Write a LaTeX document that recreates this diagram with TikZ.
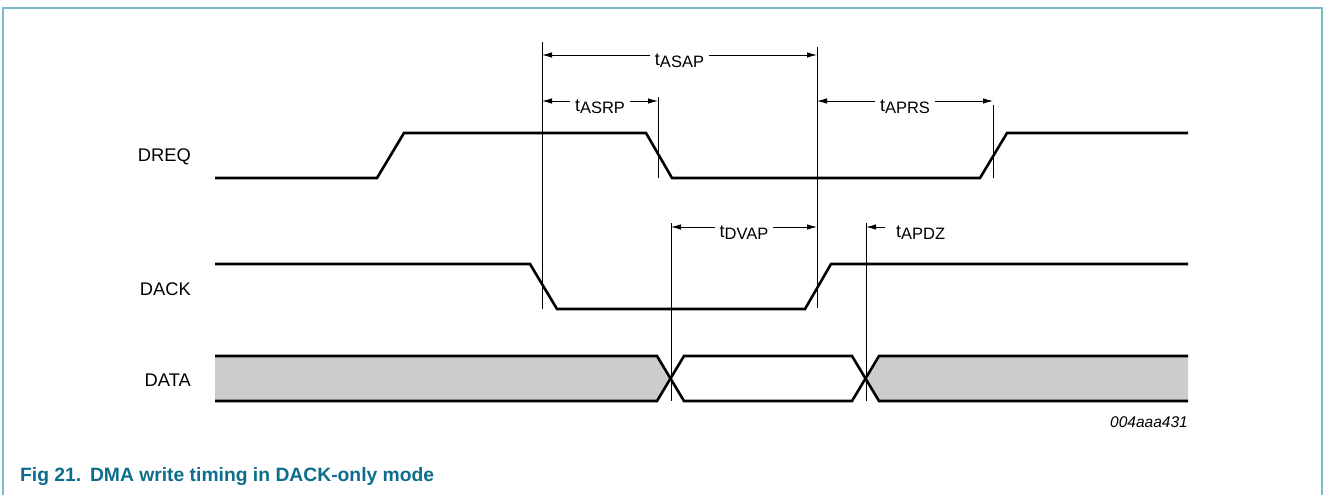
\documentclass[tikz,border=0pt]{standalone}
\usepackage{fontspec}
\setmainfont{Liberation Sans}
\usepackage{xcolor}
\usetikzlibrary{arrows.meta}
\usetikzlibrary{positioning}
\definecolor{nxpframe}{RGB}{125,185,200}
\definecolor{nxpcap}{RGB}{12,110,140}
\definecolor{busgray}{RGB}{204,204,204}
\newcommand{\tlab}[1]{t\raisebox{-2.5pt}{\fontsize{16.5}{16.5}\selectfont #1}}
\tikzset{
  tim_sig/.style = {line width=2.6pt, line join=miter},% signal
  tim_gd/.style = {line width=0.9pt},% guide line
  tim_dim/.style = {line width=0.9pt, <->},% timing arrow
  tim_lbl/.style = {fill=white, inner xsep=5pt, inner ysep=1pt, anchor=base,
    yshift=-10pt, font=\fontsize{18}{20}\selectfont},% timing label
  tim_name/.style = {anchor=base east, inner sep=0pt,
    font=\fontsize{18.3}{20}\selectfont}% signal name
}

\begin{document}
\begin{tikzpicture}[x=1pt,y=-1pt,>={Latex[length=10pt,width=5.5pt]}]
\useasboundingbox (0,0) rectangle (1324,495);
\draw[nxpframe, line width=2pt] (2.5,495) -- (2.5,8) -- (1322,8) -- (1322,495);

% signal names
\node[tim_name] (n_dreq) at (191,161.5) {DREQ};
\node[tim_name] (n_dack) at (191,295) {DACK};
\node[tim_name] (n_data) at (191,386) {DATA};

% waveforms
\draw[tim_sig] (215,178) -- (377,178) -- (404,133) -- (646,133) -- (672,178)
  -- (980,178) -- (1007,133) -- (1188,133);
\draw[tim_sig] (215,264) -- (530,264) -- (557,309) -- (805,309) -- (831,264)
  -- (1188,264);
\fill[busgray] (215,356) -- (657,356) -- (670.5,378.5) -- (657,401) -- (215,401) -- cycle;
\fill[busgray] (1188,356) -- (879,356) -- (865.5,378.5) -- (879,401) -- (1188,401) -- cycle;
\draw[tim_sig] (215,356) -- (657,356) -- (684,401) -- (852,401) -- (879,356) -- (1188,356);
\draw[tim_sig] (215,401) -- (657,401) -- (684,356) -- (852,356) -- (879,401) -- (1188,401);

% guide lines
\coordinate (g1t) at (542,42);   \coordinate (g1b) at (542,309);
\coordinate (g2t) at (658,97);   \coordinate (g2b) at (658,178);
\coordinate (g3t) at (817,47);   \coordinate (g3b) at (817,308);
\coordinate (g4t) at (993,105);  \coordinate (g4b) at (993,178);
\coordinate (g5t) at (671,223);  \coordinate (g5b) at (671,401);
\coordinate (g6t) at (866,223);  \coordinate (g6b) at (866,401);
\foreach \g in {g1,g2,g3,g4,g5,g6}
  \draw[tim_gd] (\g t) -- (\g b);

% timing arrows
\coordinate (asap_a) at (542,55);  \coordinate (asap_b) at (817,55);
\coordinate (asrp_a) at (542,101); \coordinate (asrp_b) at (658,101);
\coordinate (aprs_a) at (817,101); \coordinate (aprs_b) at (993,101);
\coordinate (dvap_a) at (671,227); \coordinate (dvap_b) at (817,227);
\coordinate (apdz_a) at (885,227); \coordinate (apdz_b) at (866,227);
\draw[tim_dim] (asap_a) -- node[tim_lbl] (l_asap) {\tlab{ASAP}} (asap_b);
\draw[tim_dim] (asrp_a) -- node[tim_lbl] (l_asrp) {\tlab{ASRP}} (asrp_b);
\draw[tim_dim] (aprs_a) -- node[tim_lbl] (l_aprs) {\tlab{APRS}} (aprs_b);
\draw[tim_dim] (dvap_a) -- node[tim_lbl] (l_dvap) {\tlab{DVAP}} (dvap_b);
\draw[tim_gd,->] (apdz_a) -- (apdz_b);
\node[anchor=base west, inner sep=0pt, font=\fontsize{18}{20}\selectfont]
  (l_apdz) at (896,237) {\tlab{APDZ}};

% figure code and caption
\node[anchor=base east, inner sep=0pt, font=\fontsize{15.5}{17}\selectfont\itshape]
  (fig_id) at (1188,427) {004aaa431};
\node[anchor=base west, inner sep=0pt, text=nxpcap,
  font=\fontsize{19.3}{22}\selectfont\bfseries]
  (fig_cap) at (20,481) {Fig 21.\hspace{0.45em}DMA write timing in DACK-only mode};
\end{tikzpicture}
\end{document}
